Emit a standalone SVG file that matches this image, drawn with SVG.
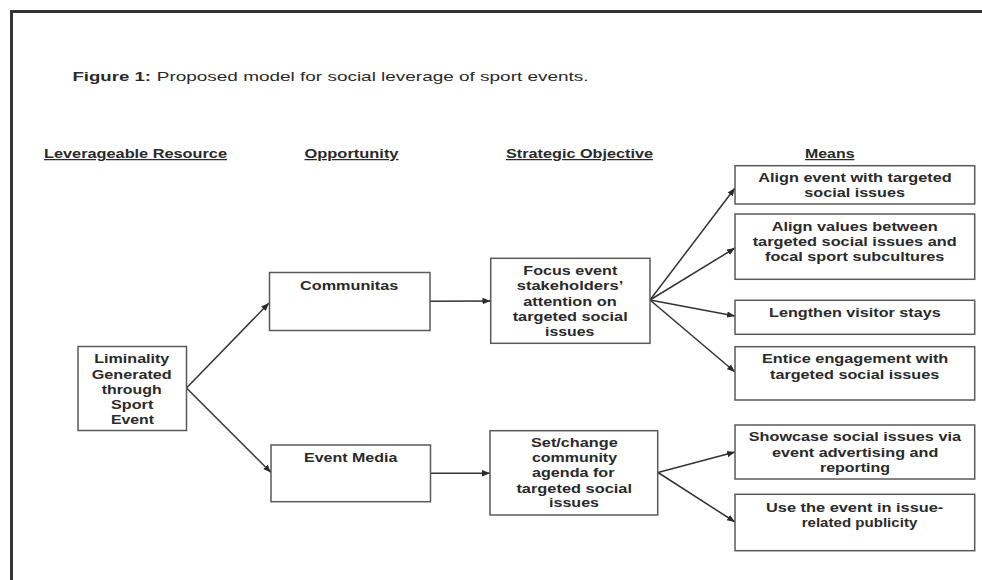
<svg xmlns="http://www.w3.org/2000/svg" width="982" height="580" viewBox="0 0 982 580">
<style>
text{font-family:"Liberation Sans",Arial,sans-serif;fill:#2a2a2a;}
.t{font-size:13.5px;font-weight:bold;}
.h{font-size:12.5px;font-weight:bold;text-decoration:underline;}
.ttl{font-size:13px;}
.box{fill:#fff;stroke:#5a5a5a;stroke-width:1.5;}
.c{fill:none;stroke:#333;stroke-width:1.5;}
</style>
<defs>
<marker id="ah" markerUnits="userSpaceOnUse" markerWidth="10" markerHeight="8" refX="8" refY="4" orient="auto">
<path d="M0,0.8 L8,4 L0,7.2 Z" fill="#2a2a2a"/>
</marker>
</defs>
<rect x="0" y="0" width="982" height="580" fill="#fff"/>
<path d="M11.5,580 V11.5 H982" fill="none" stroke="#333" stroke-width="3"/>
<g id="title">
<text class="ttl" y="81"><tspan x="72.5" font-weight="bold" textLength="78.5" lengthAdjust="spacingAndGlyphs">Figure 1:</tspan><tspan x="156.8" textLength="431.8" lengthAdjust="spacingAndGlyphs">Proposed model for social leverage of sport events.</tspan></text>
</g>
<g id="headers">
<text class="h" x="44" y="158" textLength="183" lengthAdjust="spacingAndGlyphs">Leverageable Resource</text>
<text class="h" x="304.5" y="158" textLength="94" lengthAdjust="spacingAndGlyphs">Opportunity</text>
<text class="h" x="506" y="158" textLength="147" lengthAdjust="spacingAndGlyphs">Strategic Objective</text>
<text class="h" x="805" y="158" textLength="49.5" lengthAdjust="spacingAndGlyphs">Means</text>
</g>
<g id="connectors">
<line class="c" x1="186.5" y1="388" x2="269" y2="303" marker-end="url(#ah)"/>
<line class="c" x1="186.5" y1="388" x2="271" y2="472.5" marker-end="url(#ah)"/>
<line class="c" x1="430" y1="301.3" x2="490.5" y2="301" marker-end="url(#ah)"/>
<line class="c" x1="431" y1="473.3" x2="490" y2="473.3" marker-end="url(#ah)"/>
<line class="c" x1="650" y1="300" x2="735" y2="188" marker-end="url(#ah)"/>
<line class="c" x1="650" y1="300" x2="735" y2="248" marker-end="url(#ah)"/>
<line class="c" x1="650" y1="300" x2="735" y2="316" marker-end="url(#ah)"/>
<line class="c" x1="650" y1="300" x2="735" y2="372" marker-end="url(#ah)"/>
<line class="c" x1="658" y1="472.5" x2="735" y2="452" marker-end="url(#ah)"/>
<line class="c" x1="658" y1="472.5" x2="735" y2="522" marker-end="url(#ah)"/>
</g>
<g id="liminality">
<rect class="box" x="78" y="346.5" width="108.5" height="84"/>
<text class="t" x="94.3" y="363.3" textLength="75" lengthAdjust="spacingAndGlyphs">Liminality</text>
<text class="t" x="91.7" y="378.5" textLength="80" lengthAdjust="spacingAndGlyphs">Generated</text>
<text class="t" x="101.7" y="393.7" textLength="60" lengthAdjust="spacingAndGlyphs">through</text>
<text class="t" x="111" y="408.8" textLength="42.3" lengthAdjust="spacingAndGlyphs">Sport</text>
<text class="t" x="111" y="424" textLength="43" lengthAdjust="spacingAndGlyphs">Event</text>
</g>
<g id="communitas">
<rect class="box" x="269.5" y="272.5" width="160.5" height="58"/>
<text class="t" x="300" y="290" textLength="98.3" lengthAdjust="spacingAndGlyphs">Communitas</text>
</g>
<g id="event-media">
<rect class="box" x="271" y="445" width="159.5" height="56.7"/>
<text class="t" x="304" y="461.7" textLength="93.3" lengthAdjust="spacingAndGlyphs">Event Media</text>
</g>
<g id="focus">
<rect class="box" x="490.7" y="258.3" width="159.3" height="85"/>
<text class="t" x="523.3" y="275" textLength="94" lengthAdjust="spacingAndGlyphs">Focus event</text>
<text class="t" x="516.7" y="290.3" textLength="106.6" lengthAdjust="spacingAndGlyphs">stakeholders’</text>
<text class="t" x="523.3" y="305.7" textLength="93.4" lengthAdjust="spacingAndGlyphs">attention on</text>
<text class="t" x="512.7" y="321" textLength="115" lengthAdjust="spacingAndGlyphs">targeted social</text>
<text class="t" x="545" y="335.7" textLength="49.3" lengthAdjust="spacingAndGlyphs">issues</text>
</g>
<g id="set-change">
<rect class="box" x="490" y="430.7" width="167.7" height="84.3"/>
<text class="t" x="531" y="447.3" textLength="86.7" lengthAdjust="spacingAndGlyphs">Set/change</text>
<text class="t" x="532" y="462.3" textLength="85" lengthAdjust="spacingAndGlyphs">community</text>
<text class="t" x="532" y="477.3" textLength="82.5" lengthAdjust="spacingAndGlyphs">agenda for</text>
<text class="t" x="516.4" y="492.7" textLength="115.6" lengthAdjust="spacingAndGlyphs">targeted social</text>
<text class="t" x="549" y="507.3" textLength="50" lengthAdjust="spacingAndGlyphs">issues</text>
</g>
<g id="means-1">
<rect class="box" x="735" y="165.7" width="239.7" height="38.3"/>
<text class="t" x="758.3" y="182.3" textLength="193.4" lengthAdjust="spacingAndGlyphs">Align event with targeted</text>
<text class="t" x="804.3" y="197.3" textLength="100.7" lengthAdjust="spacingAndGlyphs">social issues</text>
</g>
<g id="means-2">
<rect class="box" x="735" y="214" width="239.7" height="65.3"/>
<text class="t" x="771.7" y="231" textLength="166" lengthAdjust="spacingAndGlyphs">Align values between</text>
<text class="t" x="752.7" y="245.7" textLength="204" lengthAdjust="spacingAndGlyphs">targeted social issues and</text>
<text class="t" x="765" y="261" textLength="179.3" lengthAdjust="spacingAndGlyphs">focal sport subcultures</text>
</g>
<g id="means-3">
<rect class="box" x="735" y="300.3" width="239.7" height="34"/>
<text class="t" x="769" y="316.7" textLength="171.7" lengthAdjust="spacingAndGlyphs">Lengthen visitor stays</text>
</g>
<g id="means-4">
<rect class="box" x="735" y="346.7" width="239.7" height="53.3"/>
<text class="t" x="762" y="363.3" textLength="186.3" lengthAdjust="spacingAndGlyphs">Entice engagement with</text>
<text class="t" x="770" y="378.7" textLength="169.3" lengthAdjust="spacingAndGlyphs">targeted social issues</text>
</g>
<g id="means-5">
<rect class="box" x="735" y="425" width="239.7" height="54"/>
<text class="t" x="748.7" y="441" textLength="212.3" lengthAdjust="spacingAndGlyphs">Showcase social issues via</text>
<text class="t" x="772" y="456.7" textLength="166.3" lengthAdjust="spacingAndGlyphs">event advertising and</text>
<text class="t" x="820" y="472.3" textLength="70" lengthAdjust="spacingAndGlyphs">reporting</text>
</g>
<g id="means-6">
<rect class="box" x="735" y="494.3" width="239.7" height="56.4"/>
<text class="t" x="766" y="511.7" textLength="177.3" lengthAdjust="spacingAndGlyphs">Use the event in issue-</text>
<text class="t" x="801.7" y="526.7" textLength="115.6" lengthAdjust="spacingAndGlyphs">related publicity</text>
</g>
</svg>
